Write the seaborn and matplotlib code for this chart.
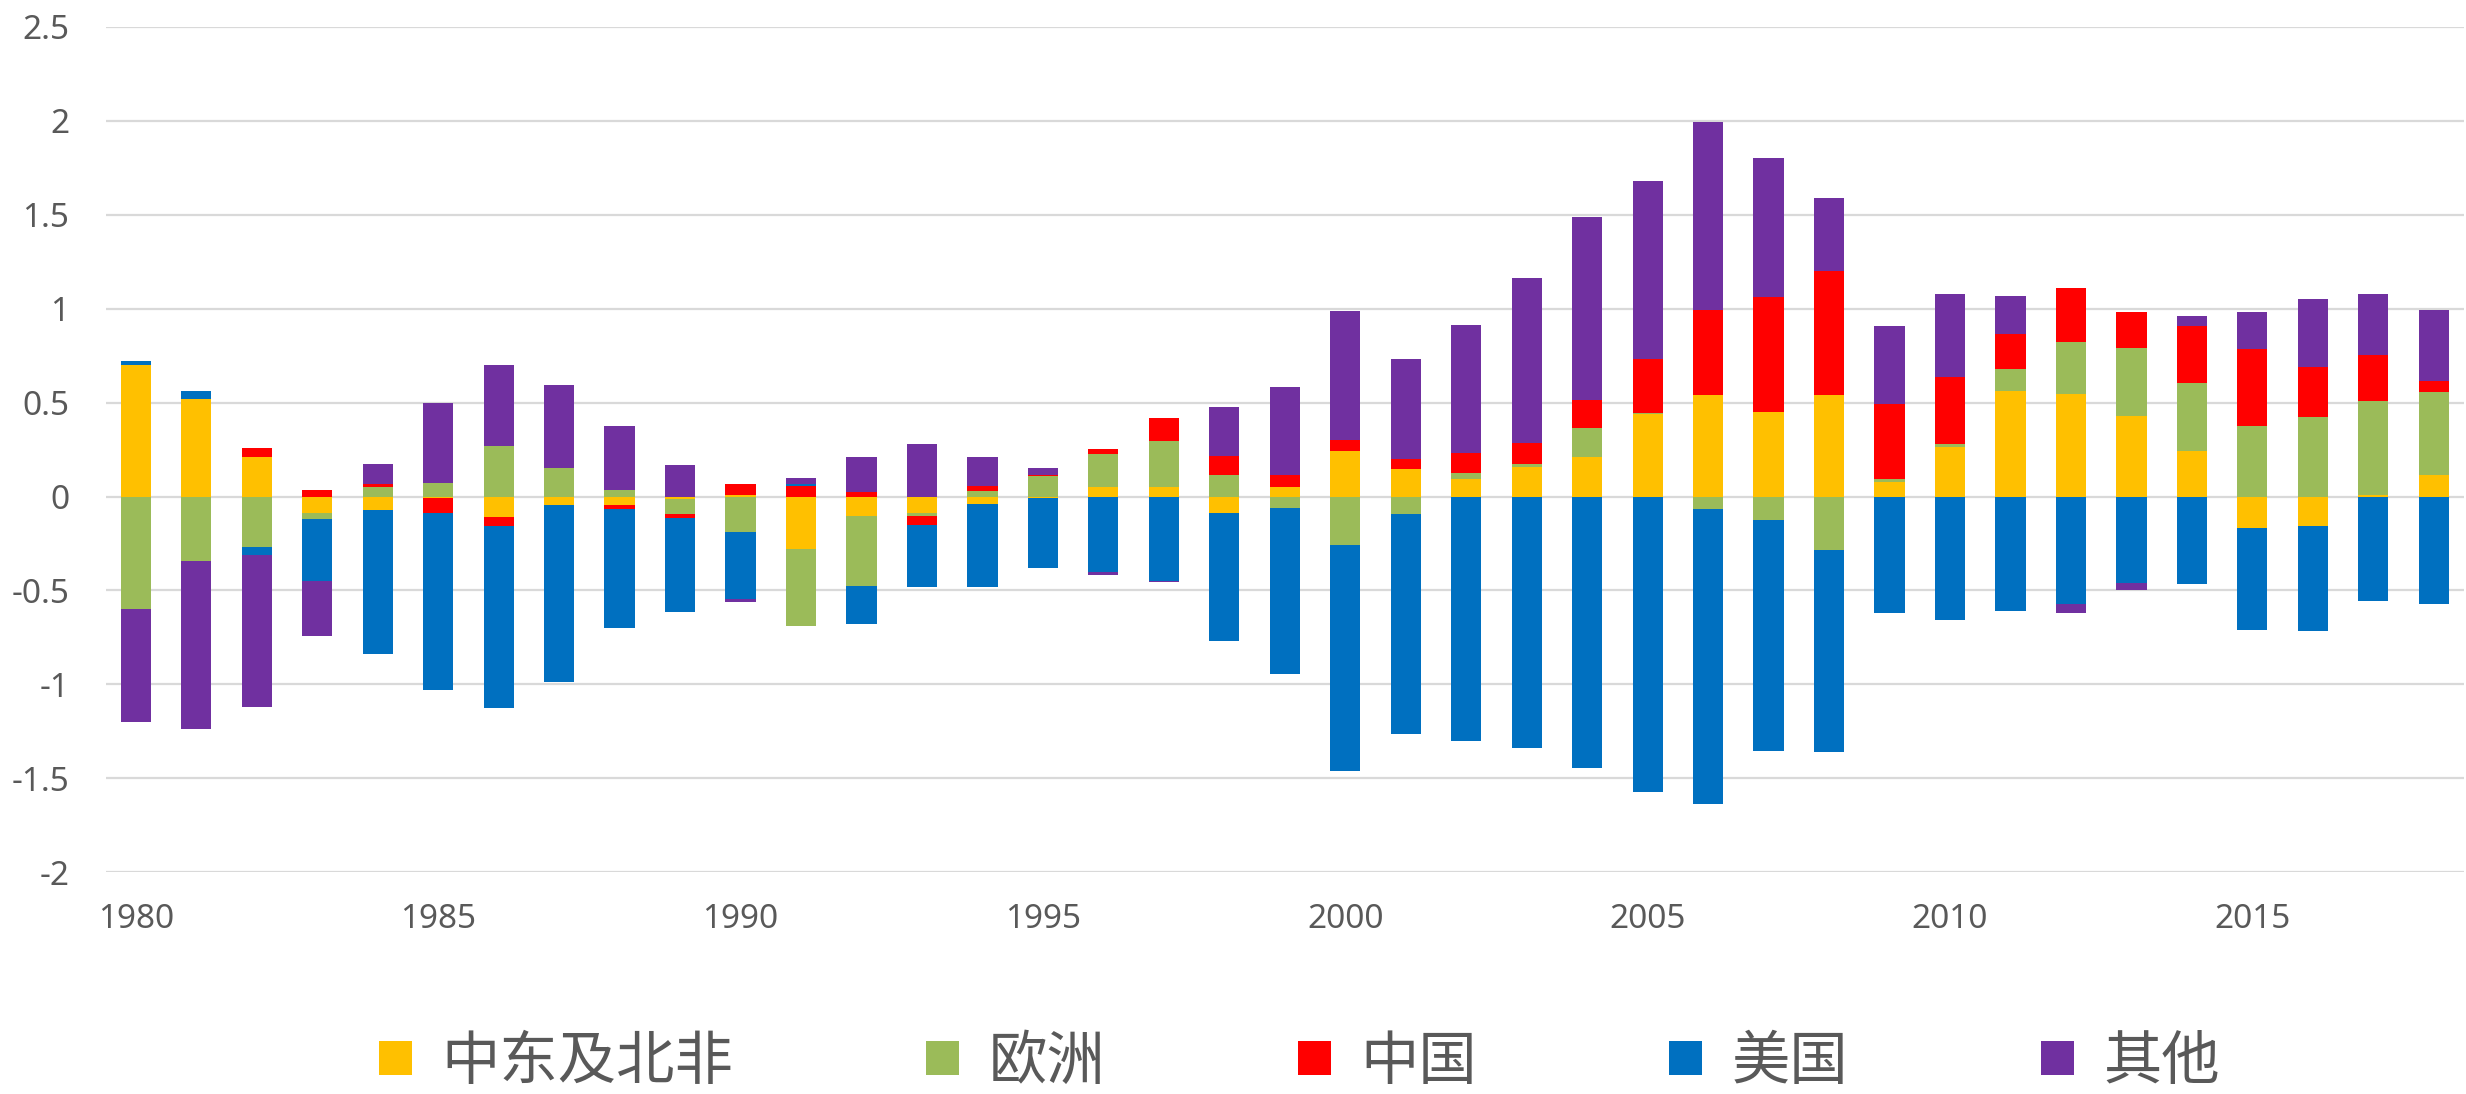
import numpy as np
import matplotlib
matplotlib.use("Agg")
import matplotlib.pyplot as plt
from matplotlib.patches import Patch
import seaborn as sns

years = list(range(1980, 2019))

# contributions per region
mena = [0.70, 0.52, 0.21, -0.09, -0.07, -0.01, -0.11, -0.045, -0.045, -0.015,
        0.01, -0.28, -0.106, -0.09, -0.039, -0.01, 0.048, 0.048, -0.087, 0.048,
        0.24, 0.145, 0.094, 0.155, 0.21, 0.44, 0.54, 0.45, 0.54, 0.077,
        0.265, 0.56, 0.545, 0.43, 0.242, -0.165, -0.158, 0.006, 0.116]
europe = [-0.60, -0.345, -0.27, -0.03, 0.05, 0.07, 0.27, 0.15, 0.035, -0.08,
          -0.19, -0.41, -0.37, -0.016, 0.029, 0.11, 0.18, 0.25, 0.113, -0.061,
          -0.258, -0.094, 0.032, 0.019, 0.152, 0.005, -0.065, -0.126, -0.284, 0.016,
          0.013, 0.12, 0.277, 0.36, 0.361, 0.374, 0.423, 0.503, 0.442]
china = [0.0, 0.0, 0.05, 0.035, 0.015, -0.08, -0.045, 0.0, -0.02, -0.02,
         0.055, 0.058, 0.026, -0.048, 0.026, 0.006, 0.023, 0.12, 0.10, 0.065,
         0.061, 0.052, 0.103, 0.11, 0.152, 0.287, 0.455, 0.61, 0.66, 0.40,
         0.36, 0.184, 0.287, 0.194, 0.303, 0.41, 0.265, 0.242, 0.058]
usa = [0.02, 0.04, -0.04, -0.33, -0.77, -0.94, -0.97, -0.94, -0.635, -0.50,
       -0.355, 0.01, -0.20, -0.326, -0.44, -0.37, -0.40, -0.45, -0.684, -0.884,
       -1.20, -1.17, -1.30, -1.34, -1.445, -1.574, -1.57, -1.23, -1.074, -0.62,
       -0.655, -0.61, -0.574, -0.458, -0.465, -0.545, -0.558, -0.558, -0.574]
other = [-0.60, -0.89, -0.81, -0.29, 0.11, 0.43, 0.43, 0.445, 0.34, 0.17,
         -0.016, 0.03, 0.184, 0.277, 0.155, 0.036, -0.02, -0.006, 0.264, 0.471,
         0.684, 0.535, 0.684, 0.877, 0.971, 0.948, 1.0, 0.74, 0.39, 0.416,
         0.442, 0.203, -0.048, -0.042, 0.055, 0.2, 0.365, 0.326, 0.377]

series_names = ["中东及北非", "欧洲", "中国", "美国", "其他"]
colors = ["#FFC000", "#9BBB59", "#FF0000", "#0070C0", "#7030A0"]

sns.set_theme(style="white")
plt.rcParams["font.family"] = ["Noto Sans", "Noto Sans CJK SC", "DejaVu Sans"]
plt.rcParams["axes.unicode_minus"] = False

fig = plt.figure(figsize=(24.66, 10.94), dpi=100)
ax = fig.add_axes([0.0428, 0.2026, 0.9564, 0.773])

# excel-style stacking: positives pile up, negatives pile down, separately
data = np.array([mena, europe, china, usa, other])
pos = np.clip(data, 0, None).cumsum(axis=0)
neg = np.clip(data, None, 0).cumsum(axis=0)
labels = [str(y) for y in years]

# draw cumulative totals from the last series back to the first so each layer shows its own slice
for i in reversed(range(len(series_names))):
    for tops in (pos[i], neg[i]):
        sns.barplot(x=labels, y=tops, color=colors[i], saturation=1, width=0.5,
                    errorbar=None, linewidth=0, ax=ax)

ax.set_ylim(-2, 2.5)
ax.set_xlim(-0.5, len(years) - 0.5)
yt = np.arange(-2, 2.51, 0.5)
ax.set_yticks(yt)
ax.set_yticklabels([f"{v:g}" for v in yt])
ax.set_xticks(range(0, len(years), 5))
ax.set_xticklabels(labels[::5])
ax.set_xlabel("")
ax.set_ylabel("")

ax.set_axisbelow(True)
ax.yaxis.grid(True, color="#D9D9D9", linewidth=1.6)
ax.xaxis.grid(False)
sns.despine(ax=ax, left=True, bottom=True)
ax.tick_params(axis="y", length=0, pad=26, labelsize=24, labelcolor="#595959")
ax.tick_params(axis="x", length=0, pad=22, labelsize=24, labelcolor="#595959")

handles = [Patch(facecolor=c, edgecolor="none") for c in colors]
fig.legend(handles, series_names, loc="center", bbox_to_anchor=(0.527, 0.029),
           ncol=5, frameon=False,
           prop={"family": "Noto Sans CJK SC", "size": 42, "weight": "light"},
           labelcolor="#595959", handlelength=0.57, handleheight=0.5,
           handletextpad=0.5, columnspacing=3.3)

fig.savefig("out.png", dpi=100)
